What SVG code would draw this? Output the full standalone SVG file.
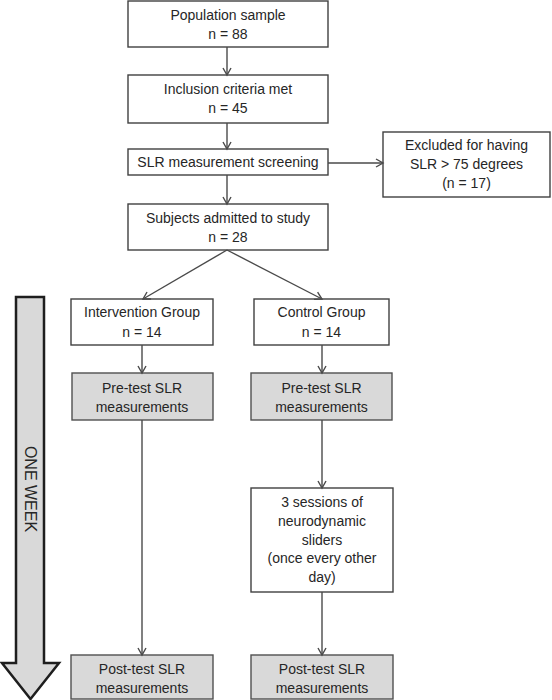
<svg xmlns="http://www.w3.org/2000/svg" width="552" height="700" viewBox="0 0 552 700">
<defs>
<marker id="ah" markerUnits="userSpaceOnUse" markerWidth="12" markerHeight="12" refX="8" refY="5" orient="auto" viewBox="0 0 12 10">
<path d="M1,1 L8,5 L1,9" fill="none" stroke="#4a4a4a" stroke-width="1.4"/>
</marker>
<style>
.box{fill:#fff;stroke:#404040;stroke-width:1.4}
.grey{fill:#d9d9d9;stroke:#505050;stroke-width:1.4}
text{font-family:"Liberation Sans",Arial,sans-serif;font-size:14px;fill:#262626;text-anchor:middle}
.conn line{stroke:#4a4a4a;stroke-width:1.4;marker-end:url(#ah)}
</style>
</defs>
<rect width="552" height="700" fill="#fff"/>
<g id="timeline">
<polygon points="16,297 44,297 44,663 59,663 30.5,699 2,663 16,663" fill="#d9d9d9" stroke="#1e1e1e" stroke-width="2.5" stroke-linejoin="miter"/>
<text transform="translate(30,489) rotate(90)" y="5.5" style="font-size:16px">ONE WEEK</text>
</g>
<g id="population"><rect class="box" x="128" y="1" width="200" height="46"/><text x="228" y="20">Population sample</text><text x="228" y="39">n = 88</text></g>
<g id="inclusion"><rect class="box" x="128" y="75" width="200" height="48"/><text x="228" y="94">Inclusion criteria met</text><text x="228" y="113">n = 45</text></g>
<g id="screening"><rect class="box" x="128" y="149" width="200" height="26"/><text x="228" y="167">SLR measurement screening</text></g>
<g id="excluded"><rect class="box" x="383" y="132" width="167" height="65"/><text x="466.5" y="150">Excluded for having</text><text x="466.5" y="169">SLR &gt; 75 degrees</text><text x="466.5" y="188">(n = 17)</text></g>
<g id="admitted"><rect class="box" x="128" y="204" width="200" height="46"/><text x="228" y="223">Subjects admitted to study</text><text x="228" y="242">n = 28</text></g>
<g id="intervention"><rect class="box" x="71" y="299" width="142" height="46"/><text x="142" y="317">Intervention Group</text><text x="142" y="337">n = 14</text></g>
<g id="control"><rect class="box" x="254" y="299" width="135" height="46"/><text x="321.5" y="317">Control Group</text><text x="321.5" y="337">n = 14</text></g>
<g id="pre1"><rect class="grey" x="72" y="373" width="141" height="47"/><text x="142" y="393">Pre-test SLR</text><text x="142" y="412">measurements</text></g>
<g id="pre2"><rect class="grey" x="251" y="373" width="141" height="47"/><text x="321.5" y="393">Pre-test SLR</text><text x="321.5" y="412">measurements</text></g>
<g id="sliders"><rect class="box" x="251" y="488" width="142" height="104"/><text x="322" y="507">3 sessions of</text><text x="322" y="526">neurodynamic</text><text x="322" y="545">sliders</text><text x="322" y="563">(once every other</text><text x="322" y="582">day)</text></g>
<g id="post1"><rect class="grey" x="71" y="655" width="142" height="44"/><text x="142" y="674">Post-test SLR</text><text x="142" y="693">measurements</text></g>
<g id="post2"><rect class="grey" x="251" y="655" width="142" height="44"/><text x="322" y="674">Post-test SLR</text><text x="322" y="693">measurements</text></g>
<g class="conn" id="connectors">
<line x1="227" y1="47" x2="227" y2="75"/>
<line x1="227" y1="123" x2="227" y2="149"/>
<line x1="227" y1="175" x2="227" y2="204"/>
<line x1="328" y1="163" x2="383" y2="163"/>
<line x1="227" y1="250" x2="143" y2="299"/>
<line x1="227" y1="250" x2="322" y2="299"/>
<line x1="142" y1="345" x2="142" y2="373"/>
<line x1="322" y1="345" x2="322" y2="373"/>
<line x1="142" y1="420" x2="142" y2="655"/>
<line x1="322" y1="420" x2="322" y2="488"/>
<line x1="322" y1="592" x2="322" y2="655"/>
</g>
</svg>
